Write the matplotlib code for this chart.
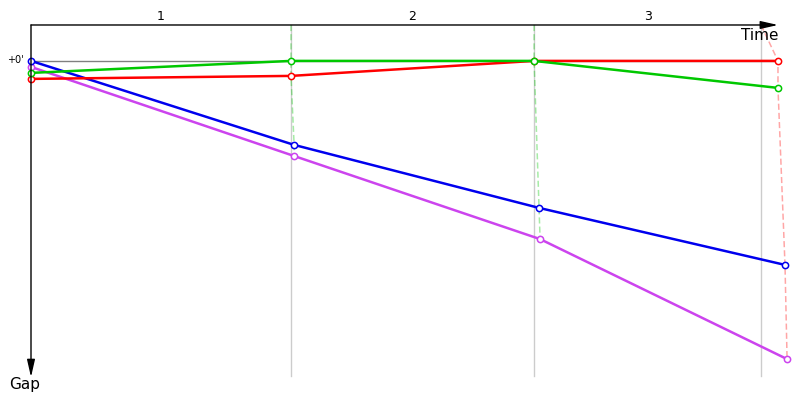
import matplotlib
matplotlib.use('Agg')
import matplotlib.pyplot as plt

# lap crossing times (s) and gaps to the leader (s) for each car
laps = ['1', '2', '3']
lap_lines = [0, 100, 193.5, 280.8]

cars = {
    'magenta': {'color': '#cc44ee',
                'time': [0, 101.2, 195.8, 290.8],
                'gap': [2.3, 32.0, 59.7, 99.7]},
    'blue': {'color': '#0000ee',
             'time': [0, 101.2, 195.4, 290.0],
             'gap': [0.3, 28.3, 49.3, 68.3]},
    'red': {'color': '#ff0000',
            'time': [0, 100.0, 193.5, 287.3],
            'gap': [6.3, 5.3, 0.3, 0.3]},
    'green': {'color': '#00c800',
              'time': [0, 100.0, 193.5, 287.3],
              'gap': [4.3, 0.3, 0.3, 9.3]},
}
leaders = ['green', 'green', 'red']
dash_start = [100.0, 193.5, 280.8]

fig = plt.figure(figsize=(8, 4), dpi=100)
ax = fig.add_axes([0, 0, 1, 1])
ax.set_xlim(-31 / 2.6, 769 / 2.6)
ax.set_ylim(400 / 3 - 20, -20)
ax.axis('off')

top = -11.67
bottom = 105.3

# lap separators
for t in lap_lines[1:]:
    ax.plot([t, t], [top, bottom], color='#cccccc', lw=1, zorder=1)

# zero gap line
ax.plot([0, 287.3], [0.3, 0.3], color='#808080', lw=1, zorder=1)

# dashed lines joining cars on the same lap
for i in range(3):
    pts = sorted([(c['gap'][i + 1], c['time'][i + 1]) for c in cars.values()])
    col = cars[leaders[i]]['color']
    xs = [dash_start[i]] + [p[1] for p in pts]
    ys = [top] + [p[0] for p in pts]
    ax.plot(xs, ys, color=col, alpha=0.35, lw=1.1, ls=(0, (4, 2)), zorder=2)

for name, c in cars.items():
    ax.plot(c['time'], c['gap'], color=c['color'], lw=1.8, marker='o',
            ms=4.5, mfc='white', mec=c['color'], mew=1.1, zorder=3)

# axes arrows
arrow = dict(arrowstyle='-|>,head_length=0.75,head_width=0.17', color='black',
             lw=1, mutation_scale=14, shrinkA=0, shrinkB=0)
ax.annotate('', xy=(287.3, top), xytext=(0, top), arrowprops=arrow, zorder=5)
ax.annotate('', xy=(0, 105.7), xytext=(0, top), arrowprops=arrow, zorder=5)

for i, lab in enumerate(laps):
    ax.text((lap_lines[i] + lap_lines[i + 1]) / 2, -14.5, lab,
            ha='center', va='center', fontsize=9)

ax.text(-3, 0, "+0'", ha='right', va='center', fontsize=7)
ax.text(280.4, -8.3, 'Time', ha='center', va='center', fontsize=11)
ax.text(-2.3, 108.3, 'Gap', ha='center', va='center', fontsize=11)

fig.savefig('out.png', dpi=100)
